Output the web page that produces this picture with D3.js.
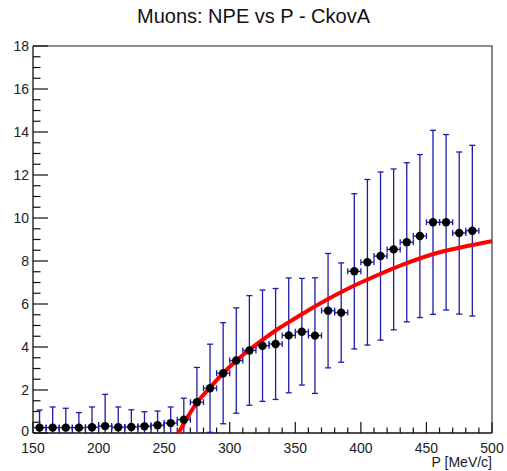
<!DOCTYPE html>
<html>
<head>
<meta charset="utf-8">
<script src="https://cdn.jsdelivr.net/npm/d3@7"></script>
<style>
  html, body { margin: 0; padding: 0; background: #fff; }
  svg { display: block; }
  text { font-family: "Liberation Sans", Arial, Helvetica, sans-serif; }
</style>
</head>
<body>
<script>
// Momentum bin centres [MeV/c] and half-widths
const momentum = [155, 165, 175, 185, 195, 205, 215, 225, 235, 245, 255, 265, 275, 285, 295, 305, 315,
                  325, 335, 345, 355, 365, 375, 385, 395, 405, 415, 425, 435, 445, 455, 465, 475, 485];
const momentumErr = 5;
// Mean number of photo-electrons per bin
const npe = [0.25, 0.25, 0.25, 0.25, 0.27, 0.32, 0.27, 0.28, 0.31, 0.36, 0.46, 0.62, 1.43, 2.08, 2.78, 3.37, 3.84,
             4.06, 4.14, 4.54, 4.71, 4.53, 5.69, 5.60, 7.52, 7.94, 8.23, 8.54, 8.87, 9.16, 9.80, 9.80, 9.30, 9.41];
// Uncertainty on NPE per bin
const npeErr = [0.82, 0.96, 0.90, 0.70, 0.94, 1.48, 0.94, 0.80, 0.68, 0.66, 0.75, 1.00, 1.62, 2.05, 2.35, 2.45, 2.55,
                2.59, 2.58, 2.67, 2.48, 2.69, 2.66, 2.31, 3.61, 3.85, 3.91, 3.74, 3.70, 3.79, 4.28, 4.08, 3.77, 3.97];
// Cherenkov threshold fit curve (P, NPE)
const fitP   = [261, 268, 275, 285, 295, 305, 315, 325, 337, 349, 362, 374, 387, 400, 413, 432, 458, 483, 500];
const fitNpe = [0, 0.75, 1.41, 2.11, 2.78, 3.36, 3.87, 4.33, 4.85, 5.30, 5.78, 6.20, 6.62, 7.00, 7.35, 7.83, 8.37, 8.72, 8.92];

const xMajor = [150, 200, 250, 300, 350, 400, 450, 500];
const yMajor = [0, 2, 4, 6, 8, 10, 12, 14, 16, 18];

const W = 507, H = 471;
const m = { left: 33, right: 15, top: 46, bottom: 38 };
const svg = d3.select("body").append("svg").attr("width", W).attr("height", H);

const x = d3.scaleLinear().domain([150, 500]).range([m.left, W - m.right]);
const y = d3.scaleLinear().domain([0, 18]).range([H - m.bottom, m.top]);
const x0 = x.range()[0], x1 = x.range()[1], y0 = y.range()[0], y1 = y.range()[1];

svg.append("defs").append("clipPath").attr("id", "plotArea")
  .append("rect").attr("x", x0).attr("y", y1).attr("width", x1 - x0).attr("height", y0 - y1);

// Title
svg.append("text").attr("x", W / 2).attr("y", 23).attr("text-anchor", "middle")
  .attr("font-size", 20).attr("fill", "#111").text("Muons: NPE vs P - CkovA");

// Frame (top and right sides)
svg.append("path")
  .attr("d", `M${x0},${y1}H${x1}V${y0}`)
  .attr("fill", "none").attr("stroke", "#6a6a6a").attr("stroke-width", 1.6);

// Y axis with major and minor ticks
const yMinor = d3.range(0, 18.01, 0.5).filter(v => !yMajor.includes(v));
const yAxis = svg.append("g");
yAxis.append("line").attr("x1", x0).attr("x2", x0).attr("y1", y0).attr("y2", y1)
  .attr("stroke", "#111").attr("stroke-width", 1.3);
yAxis.selectAll(".ymaj").data(yMajor).join("line")
  .attr("x1", x0).attr("x2", x0 + 15).attr("y1", d => y(d)).attr("y2", d => y(d))
  .attr("stroke", "#111").attr("stroke-width", 1.2);
yAxis.selectAll(".ymin").data(yMinor).join("line")
  .attr("x1", x0).attr("x2", x0 + 7.5).attr("y1", d => y(d)).attr("y2", d => y(d))
  .attr("stroke", "#111").attr("stroke-width", 1.2);
yAxis.selectAll(".ylab").data(yMajor).join("text")
  .attr("x", x0 - 4).attr("y", d => y(d) + (d === 0 ? 3 : 5)).attr("text-anchor", "end")
  .attr("font-size", 14).attr("fill", "#222").text(d => d);

// X axis with major and minor ticks
const xMinor = d3.range(150, 501, 10).filter(v => !xMajor.includes(v));
const xAxis = svg.append("g");
xAxis.append("line").attr("x1", x0).attr("x2", x1).attr("y1", y0).attr("y2", y0)
  .attr("stroke", "#111").attr("stroke-width", 1.3);
xAxis.selectAll(".xmaj").data(xMajor).join("line")
  .attr("x1", d => x(d)).attr("x2", d => x(d)).attr("y1", y0).attr("y2", y0 - 11)
  .attr("stroke", "#111").attr("stroke-width", 1.2);
xAxis.selectAll(".xmin").data(xMinor).join("line")
  .attr("x1", d => x(d)).attr("x2", d => x(d)).attr("y1", y0).attr("y2", y0 - 5.5)
  .attr("stroke", "#111").attr("stroke-width", 1.2);
xAxis.selectAll(".xlab").data(xMajor).join("text")
  .attr("x", d => x(d)).attr("y", y0 + 20).attr("text-anchor", "middle")
  .attr("font-size", 14).attr("fill", "#222").text(d => d);
svg.append("text").attr("x", x1).attr("y", y0 + 34).attr("text-anchor", "end")
  .attr("font-size", 14).attr("fill", "#222").text("P [MeV/c]");

// Data with error bars
const pts = momentum.map((p, i) => ({ p, v: npe[i], e: npeErr[i] }));
const plot = svg.append("g").attr("clip-path", "url(#plotArea)");
const errColor = "#1c1ca8";
const eg = plot.append("g").attr("stroke", errColor).attr("stroke-width", 1.3).attr("fill", "none");
pts.forEach(d => {
  const cx = x(d.p), cy = y(d.v), yt = y(d.v + d.e), yb = y(d.v - d.e);
  const xl = x(d.p - momentumErr), xr = x(d.p + momentumErr);
  eg.append("line").attr("x1", cx).attr("x2", cx).attr("y1", yt).attr("y2", yb);
  eg.append("line").attr("x1", cx - 3).attr("x2", cx + 3).attr("y1", yt).attr("y2", yt);
  eg.append("line").attr("x1", cx - 3).attr("x2", cx + 3).attr("y1", yb).attr("y2", yb);
  eg.append("line").attr("x1", xl).attr("x2", xr).attr("y1", cy).attr("y2", cy);
  eg.append("line").attr("x1", xl).attr("x2", xl).attr("y1", cy - 3).attr("y2", cy + 3);
  eg.append("line").attr("x1", xr).attr("x2", xr).attr("y1", cy - 3).attr("y2", cy + 3);
});

// Fit curve
const line = d3.line().x((d, i) => x(fitP[i])).y(d => y(d)).curve(d3.curveMonotoneX);
plot.append("path").attr("d", line(fitNpe))
  .attr("fill", "none").attr("stroke", "#ff0000").attr("stroke-width", 4);

// Markers
plot.selectAll(".pt").data(pts).join("circle")
  .attr("cx", d => x(d.p)).attr("cy", d => y(d.v)).attr("r", 4.2).attr("fill", "#000");
</script>
</body>
</html>
